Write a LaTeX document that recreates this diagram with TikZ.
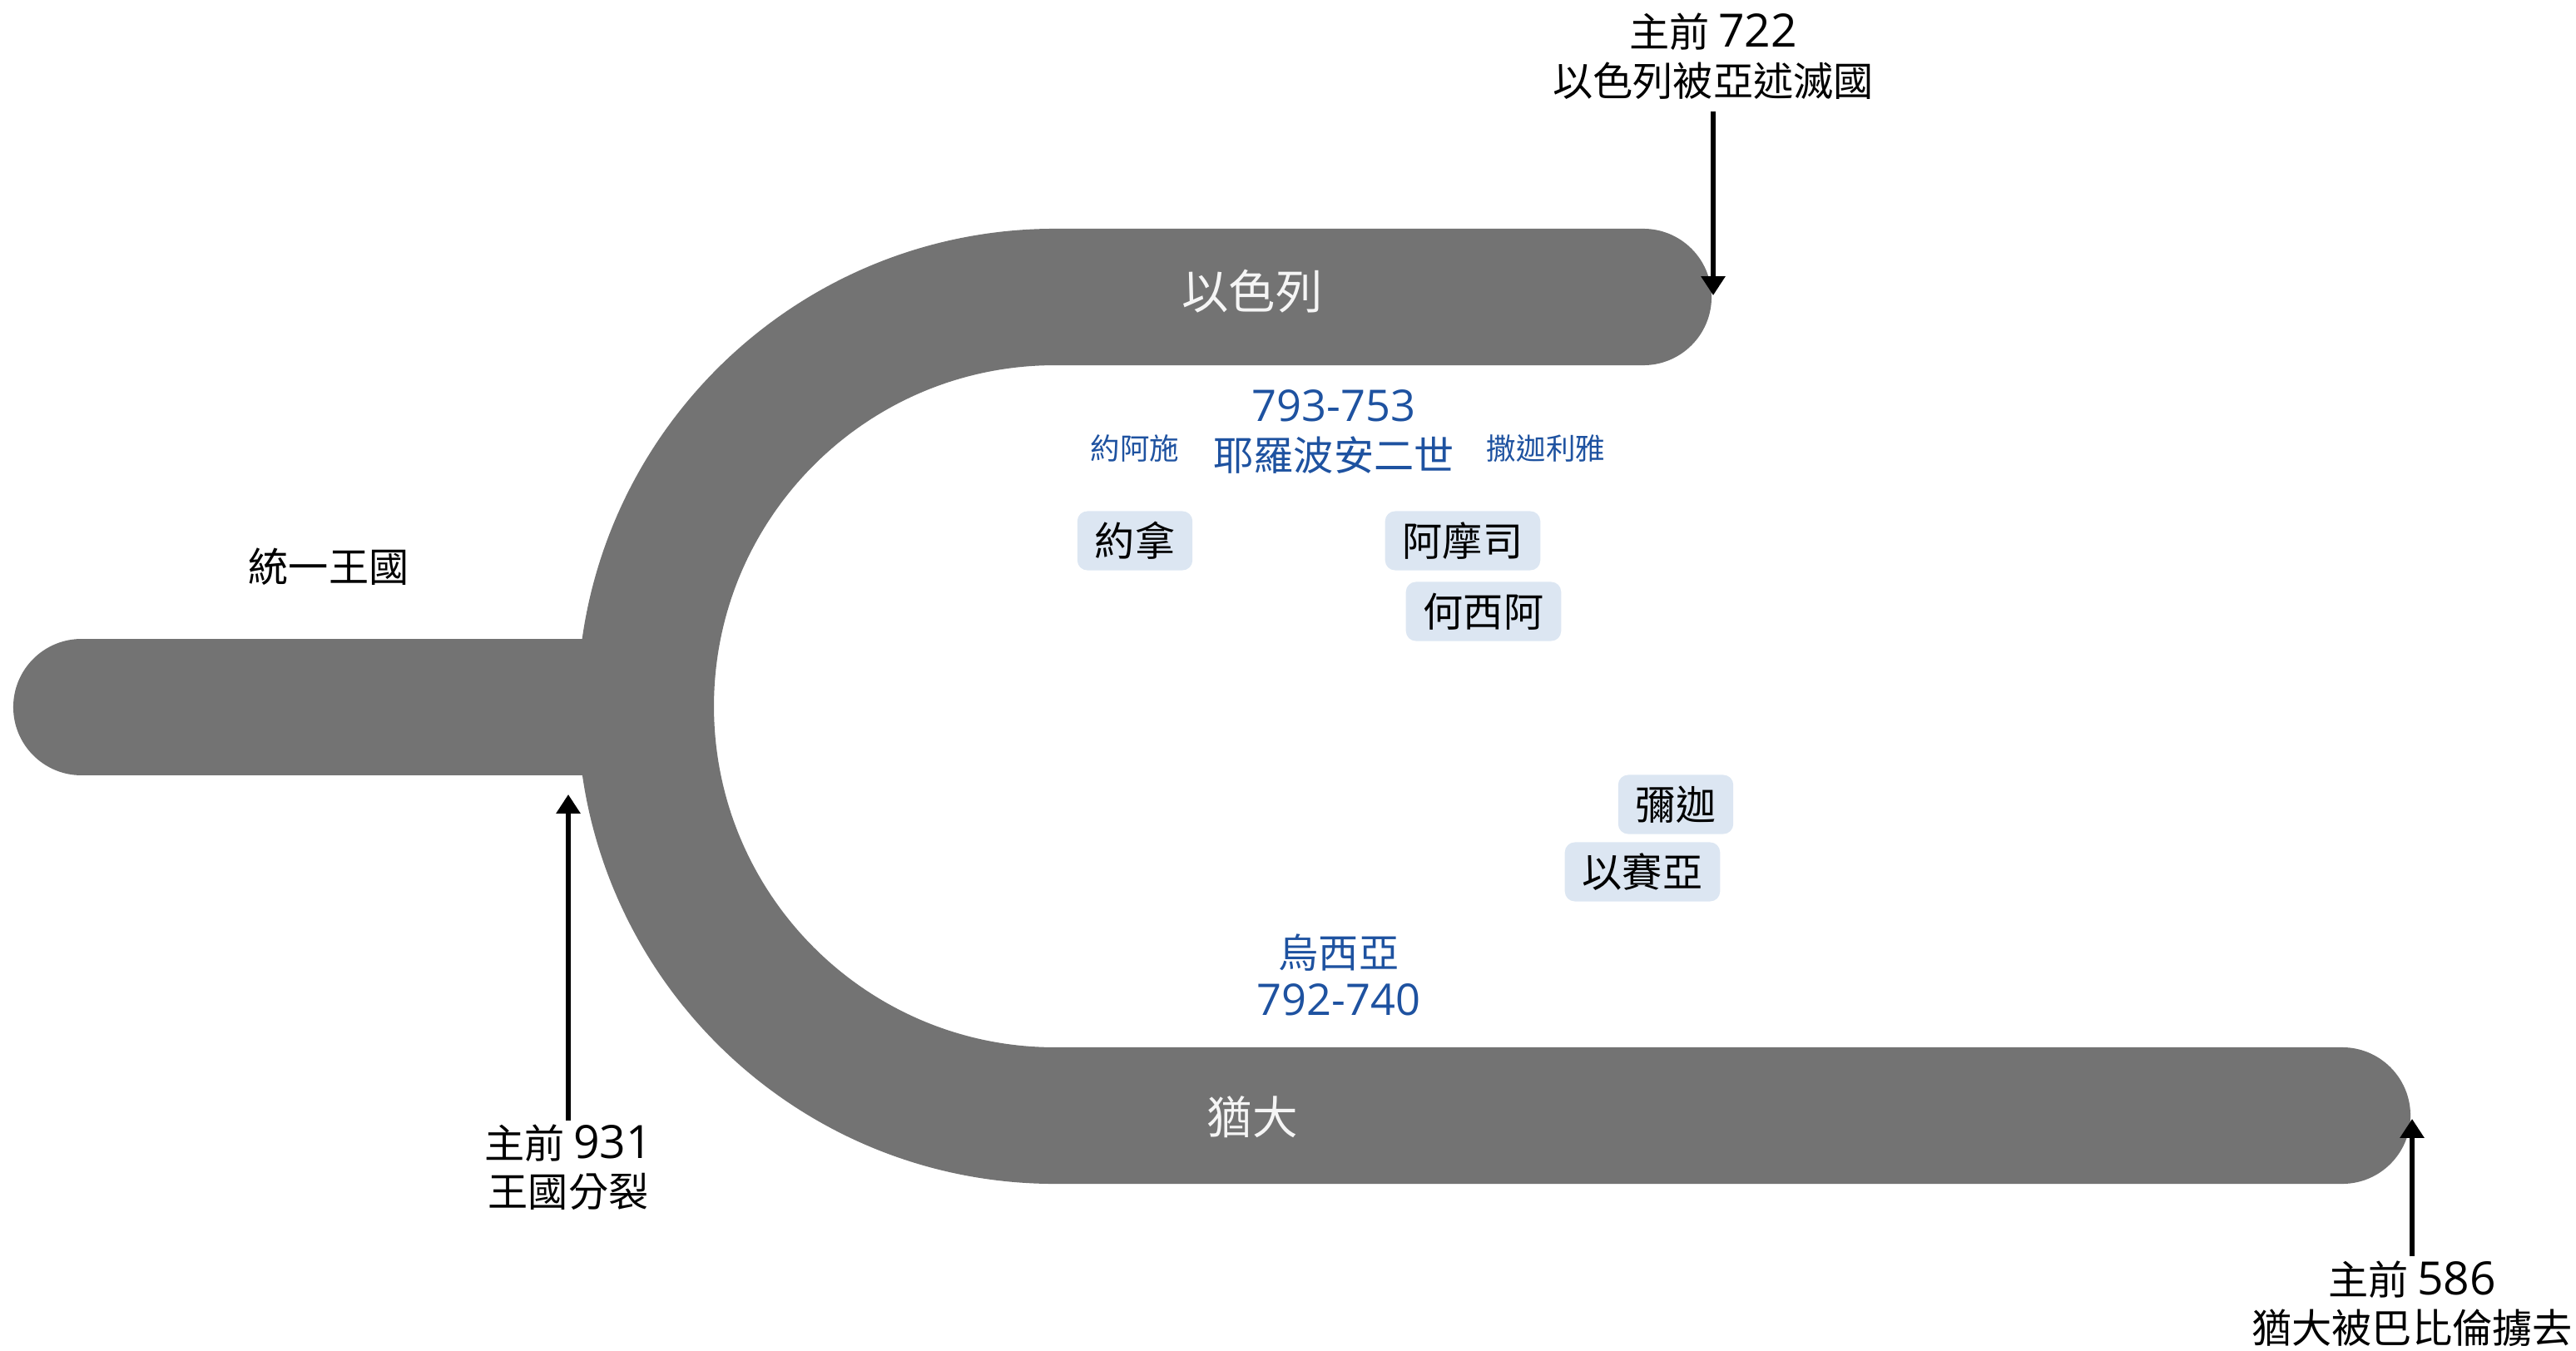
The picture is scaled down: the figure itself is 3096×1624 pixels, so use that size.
\documentclass[tikz,border=0pt]{standalone}
\usepackage{fontspec}
\setmainfont{Open Sans}
\newfontfamily\cjk{Noto Sans CJK TC}
\usetikzlibrary{arrows.meta}
\definecolor{band}{RGB}{115,115,115}
\definecolor{kingblue}{RGB}{30,82,160}
\definecolor{prophetfill}{RGB}{220,230,242}
\definecolor{bandtext}{RGB}{245,245,245}
\newcommand\fsz[1]{\fontsize{#1}{#1}\selectfont}
\newcommand\yr[1]{{\rmfamily\fsz{15.7}#1}}
\begin{document}
\begin{tikzpicture}[x=0.01cm,y=-0.01cm,
  bandline/.style={line width=1.64cm, draw=band, line cap=round},
  lbl/.style={inner sep=0pt, font=\cjk\fsz{13.7}},
  bandlbl/.style={inner sep=0pt, text=bandtext, font=\cjk\fsz{16}},
  king/.style={inner sep=0pt, text=kingblue, font=\cjk\fsz{13.7}},
  kingsmall/.style={inner sep=0pt, text=kingblue, font=\cjk\fsz{10.1}},
  years/.style={inner sep=0pt, text=kingblue, font=\fsz{14.9}},
  prophet/.style={fill=prophetfill, rounded corners=0.12cm, minimum height=0.71cm,
    inner xsep=0.21cm, inner ysep=0pt, font=\cjk\fsz{13.7}},
  event/.style={line width=1.5pt, -{Triangle[width=8pt,length=6.5pt]}}]
\useasboundingbox (0,0) rectangle (3096,1624);
% bands
\draw[bandline] (98,850) -- (720,850);
\draw[bandline] (1975,357) -- (1268,357) arc[start angle=270, end angle=90, radius=492] -- (2815,1341);
% band labels
\node[lbl] (united) at (395,681) {統一王國};
\node[bandlbl] (israel) at (1505,350) {以色列};
\node[bandlbl, font=\cjk\fsz{15.5}] (judah) at (1505,1343) {猶大};
% kings
\node[years] (y793) at (1603,488) {793-753};
\node[kingsmall] (jehoash) at (1364,539) {約阿施};
\node[king] (jeroboam) at (1603,547) {耶羅波安二世};
\node[kingsmall] (zechariah) at (1858,539) {撒迦利雅};
\node[king] (uzziah) at (1609,1145) {烏西亞};
\node[years] (y792) at (1609,1202) {792-740};
% prophets
\node[prophet] (jonah) at (1364,650) {約拿};
\node[prophet] (amos) at (1758,650) {阿摩司};
\node[prophet] (hosea) at (1783,735) {何西阿};
\node[prophet] (micah) at (2014,967) {彌迦};
\node[prophet] (isaiah) at (1974,1048) {以賽亞};
% events
\node[lbl] (e722a) at (2059,38) {主前 \yr{722}};
\node[lbl] (e722b) at (2059,97) {以色列被亞述滅國};
\node[lbl] (e931a) at (683,1374) {主前 \yr{931}};
\node[lbl] (e931b) at (683,1432) {王國分裂};
\node[lbl] (e586a) at (2899,1538) {主前 \yr{586}};
\node[lbl] (e586b) at (2899,1596) {猶大被巴比倫擄去};
\coordinate (s722) at (2059,134);
\coordinate (t722) at (2059,355);
\coordinate (s931) at (683,1347);
\coordinate (t931) at (683,955);
\coordinate (s586) at (2899,1510);
\coordinate (t586) at (2899,1345);
\draw[event] (s722) -- (t722);
\draw[event] (s931) -- (t931);
\draw[event] (s586) -- (t586);
\end{tikzpicture}
\end{document}
